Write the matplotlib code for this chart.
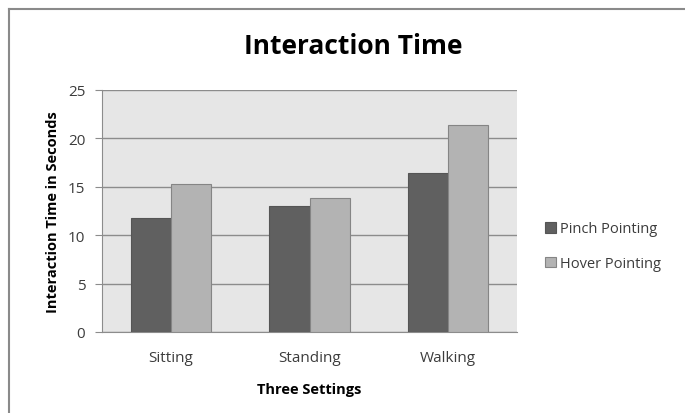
import numpy as np
from matplotlib import pyplot as plt
from matplotlib.lines import Line2D

settings = ['Sitting', 'Standing', 'Walking']
pinch = [11.8, 13.0, 16.4]
hover = [15.3, 13.8, 21.4]
series_labels = ['Pinch Pointing', 'Hover Pointing']

plt.rcParams['font.family'] = ['Open Sans', 'DejaVu Sans']

fig = plt.figure(figsize=(6.85, 4.14), dpi=100)
# chart frame: only the top and left edges are inside the image
fx, fy = 9 / 685, 1 - 10 / 414
fig.lines.append(Line2D([fx, 1.0], [fy, fy], transform=fig.transFigure,
                        color='#8a8a8a', linewidth=1.5))
fig.lines.append(Line2D([fx, fx], [0.0, fy], transform=fig.transFigure,
                        color='#8a8a8a', linewidth=1.5))

ax = fig.add_axes([102 / 685, 81 / 414, 415 / 685, 242 / 414])
ax.set_facecolor('#e6e6e6')

x = np.arange(len(settings))
w = 0.29
ax.bar(x - w / 2, pinch, w, color='#606060', edgecolor='#555555', linewidth=0.8,
       label=series_labels[0], zorder=3)
ax.bar(x + w / 2, hover, w, color='#b3b3b3', edgecolor='#858585', linewidth=0.8,
       label=series_labels[1], zorder=3)

ax.set_xlim(-0.5, 2.5)
ax.set_ylim(0, 25)
ax.set_yticks(range(0, 26, 5))
ax.set_xticks(x)
ax.set_xticklabels(settings)
ax.yaxis.grid(True, color='#8c8c8c', linewidth=1.0, zorder=1)
ax.set_axisbelow(True)

for s in ['top', 'right']:
    ax.spines[s].set_visible(False)
for s in ['left', 'bottom']:
    ax.spines[s].set_color('#8c8c8c')
ax.tick_params(axis='y', length=5, color='#8c8c8c', labelsize=11,
               labelcolor='#3c3c3c', pad=7)
ax.tick_params(axis='x', length=0, labelsize=11, labelcolor='#3c3c3c', pad=13)

ax.set_xlabel('Three Settings', fontsize=10.5, fontweight='bold', labelpad=12)
ax.set_ylabel('Interaction Time in Seconds', fontsize=10.5, fontweight='bold', labelpad=6)
fig.text(353 / 685, 1 - 47 / 414, 'Interaction Time', ha='center', va='center',
         fontsize=19, fontweight='bold')

ax.legend(loc='center left', bbox_to_anchor=(1.036, 0.355), frameon=False,
          fontsize=10.5, handlelength=0.75, handleheight=0.75, handletextpad=0.3,
          labelspacing=1.35, labelcolor='#3c3c3c')

fig.savefig('out.png', dpi=100)
